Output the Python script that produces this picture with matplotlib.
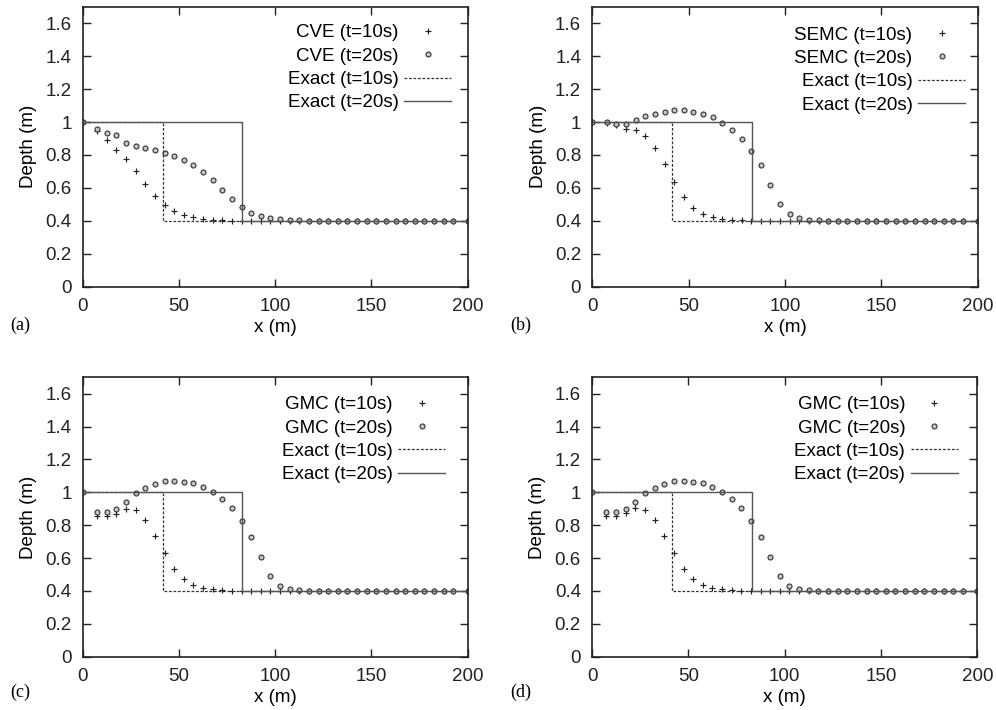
import matplotlib
matplotlib.use("Agg")
import matplotlib.pyplot as plt

plt.rcParams['font.family'] = ['Liberation Sans', 'DejaVu Sans']
plt.rcParams['font.size'] = 13.5

# cell positions (m)
x = [0, 7.5, 12.5, 17.5, 22.5, 27.5, 32.5, 37.5, 42.5, 47.5, 52.5, 57.5,
     62.5, 67.5, 72.5, 77.5, 82.5, 87.5, 92.5, 97.5, 102.5, 107.5, 112.5,
     117.5, 122.5, 127.5, 132.5, 137.5, 142.5, 147.5, 152.5, 157.5, 162.5,
     167.5, 172.5, 177.5, 182.5, 187.5, 192.5, 200]

cve_10 = [1.0, 0.945, 0.89, 0.831, 0.774, 0.705, 0.624, 0.553, 0.494, 0.457,
          0.433, 0.42, 0.412, 0.406, 0.402, 0.4, 0.4, 0.4, 0.4, 0.4,
          0.4, 0.4, 0.4, 0.4, 0.4, 0.4, 0.4, 0.4, 0.4, 0.4,
          0.4, 0.4, 0.4, 0.4, 0.4, 0.4, 0.4, 0.4, 0.4, 0.4]
cve_20 = [1.0, 0.959, 0.935, 0.919, 0.874, 0.854, 0.841, 0.829, 0.811, 0.793,
          0.768, 0.736, 0.697, 0.648, 0.589, 0.53, 0.481, 0.447, 0.426, 0.416,
          0.41, 0.404, 0.402, 0.4, 0.4, 0.4, 0.4, 0.4, 0.4, 0.4,
          0.4, 0.4, 0.4, 0.4, 0.4, 0.4, 0.4, 0.4, 0.4, 0.4]

semc_10 = [1.0, 0.996, 0.98, 0.955, 0.949, 0.915, 0.843, 0.744, 0.634, 0.542,
           0.477, 0.441, 0.422, 0.41, 0.406, 0.402, 0.4, 0.4, 0.4, 0.4,
           0.4, 0.4, 0.4, 0.4, 0.4, 0.4, 0.4, 0.4, 0.4, 0.4,
           0.4, 0.4, 0.4, 0.4, 0.4, 0.4, 0.4, 0.4, 0.4, 0.4]
semc_20 = [1.0, 1.0, 0.986, 0.99, 1.012, 1.039, 1.051, 1.063, 1.073, 1.073,
           1.063, 1.051, 1.033, 0.994, 0.951, 0.898, 0.827, 0.738, 0.616, 0.504,
           0.439, 0.414, 0.404, 0.402, 0.4, 0.4, 0.4, 0.4, 0.4, 0.4,
           0.4, 0.4, 0.4, 0.4, 0.4, 0.4, 0.4, 0.4, 0.4, 0.4]

gmc_c_10 = [1.0, 0.855, 0.855, 0.871, 0.901, 0.891, 0.832, 0.735, 0.628, 0.535,
            0.471, 0.438, 0.42, 0.41, 0.406, 0.402, 0.4, 0.4, 0.4, 0.4,
            0.4, 0.4, 0.4, 0.4, 0.4, 0.4, 0.4, 0.4, 0.4, 0.4,
            0.4, 0.4, 0.4, 0.4, 0.4, 0.4, 0.4, 0.4, 0.4, 0.4]
gmc_c_20 = [1.0, 0.879, 0.879, 0.901, 0.943, 0.994, 1.024, 1.051, 1.069, 1.069,
            1.063, 1.055, 1.034, 1.0, 0.958, 0.903, 0.828, 0.731, 0.608, 0.491,
            0.432, 0.41, 0.404, 0.402, 0.4, 0.4, 0.4, 0.4, 0.4, 0.4,
            0.4, 0.4, 0.4, 0.4, 0.4, 0.4, 0.4, 0.4, 0.4, 0.4]

gmc_d_10 = [1.0, 0.855, 0.855, 0.875, 0.903, 0.891, 0.832, 0.735, 0.628, 0.535,
            0.471, 0.438, 0.42, 0.41, 0.406, 0.402, 0.4, 0.4, 0.4, 0.4,
            0.4, 0.4, 0.4, 0.4, 0.4, 0.4, 0.4, 0.4, 0.4, 0.4,
            0.4, 0.4, 0.4, 0.4, 0.4, 0.4, 0.4, 0.4, 0.4, 0.4]
gmc_d_20 = [1.0, 0.879, 0.879, 0.901, 0.943, 0.996, 1.026, 1.051, 1.069, 1.069,
            1.063, 1.055, 1.034, 1.0, 0.958, 0.903, 0.828, 0.731, 0.608, 0.491,
            0.432, 0.41, 0.404, 0.402, 0.4, 0.4, 0.4, 0.4, 0.4, 0.4,
            0.4, 0.4, 0.4, 0.4, 0.4, 0.4, 0.4, 0.4, 0.4, 0.4]

# exact step solutions
exact_x10 = [0, 41.6, 41.6, 200]
exact_x20 = [0, 83.0, 83.0, 200]
exact_h = [1.0, 1.0, 0.4, 0.4]

panels = [
    ("(a)", "CVE", cve_10, cve_20),
    ("(b)", "SEMC", semc_10, semc_20),
    ("(c)", "GMC", gmc_c_10, gmc_c_20),
    ("(d)", "GMC", gmc_d_10, gmc_d_20),
]

W, H = 996, 710
# axes boxes in pixels: left, top, right, bottom
boxes = [(82.7, 7, 467.7, 286.5), (592.3, 7, 977.5, 286.5),
         (82.7, 377.3, 467.7, 656.7), (592.0, 377.3, 977.3, 656.7)]
leg_anchor = [(0.957, 0.938), (0.9675, 0.93), (0.941, 0.932), (0.949, 0.932)]
letter_pos = [(10, 325), (510, 325), (10, 692), (510, 692)]

fig = plt.figure(figsize=(W / 100, H / 100), dpi=100)

for (letter, name, h10, h20), (l, t, r, b), anc, lp in zip(panels, boxes, leg_anchor, letter_pos):
    ax = fig.add_axes([l / W, 1 - b / H, (r - l) / W, (b - t) / H])
    ax.plot(x, h10, ls='none', marker='+', ms=4.2, mew=0.85, color='#222222',
            label=f"{name} (t=10s)")
    ax.plot(x, h20, ls='none', marker='o', ms=3.6, mew=0.8, mfc='#c4c4c4',
            mec='#333333', label=f"{name} (t=20s)")
    ax.plot(exact_x10, exact_h, ls=(0, (2.2, 1.4)), lw=0.9, color='#333333',
            label="Exact (t=10s)")
    ax.plot(exact_x20, exact_h, ls='-', lw=1.0, color='#555555',
            label="Exact (t=20s)")
    ax.set_xlim(0, 200)
    ax.set_ylim(0, 1.7)
    ax.set_xticks([0, 50, 100, 150, 200])
    ax.set_yticks([0, 0.2, 0.4, 0.6, 0.8, 1.0, 1.2, 1.4, 1.6])
    ax.set_yticklabels(["0", "0.2", "0.4", "0.6", "0.8", "1", "1.2", "1.4", "1.6"])
    ax.tick_params(direction='in', length=6, width=1, top=True, right=True,
                   pad=8, colors='#222222')
    for s in ax.spines.values():
        s.set_linewidth(1.2)
        s.set_color('#222222')
    ax.set_xlabel("x (m)", labelpad=3)
    ax.set_ylabel("Depth (m)", labelpad=6)

    # markerfirst=False right-aligns the rows, like gnuplot's key
    ax.legend(loc='upper right', bbox_to_anchor=anc, frameon=False,
              markerfirst=False, handlelength=2.5, handletextpad=0.3,
              labelspacing=0.33, borderpad=0, borderaxespad=0)

    fig.text(lp[0] / W, 1 - lp[1] / H, letter, family='Liberation Serif',
             fontsize=13, va='center', ha='left')

fig.savefig("out.png", dpi=100)
